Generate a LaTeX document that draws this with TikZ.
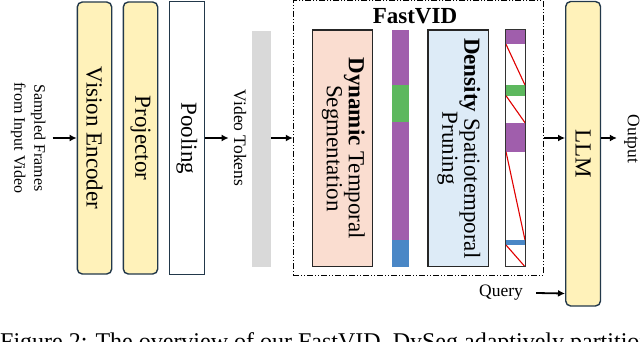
\documentclass[tikz,border=0pt]{standalone}
\usepackage{fontspec}
\setmainfont{Liberation Serif}
\usetikzlibrary{arrows.meta}
\definecolor{ylw}{HTML}{FFF2BA}
\definecolor{navy}{HTML}{22384A}
\definecolor{tokgray}{HTML}{D9D9D9}
\definecolor{peach}{HTML}{FADDD0}
\definecolor{ltblue}{HTML}{DDEBF7}
\definecolor{segpurple}{HTML}{A05EAC}
\definecolor{seggreen}{HTML}{5DB85E}
\definecolor{segblue}{HTML}{4A87C6}
\definecolor{prunered}{HTML}{E00000}
\begin{document}
\begin{tikzpicture}[x=1pt,y=-1pt,
  big/.style={font=\fontsize{23}{22}\selectfont},
  ybox/.style={draw=navy, fill=ylw, line width=1.4pt, rounded corners=5pt, inner sep=0pt, big},
  wbox/.style={draw=navy, fill=white, line width=1.2pt, inner sep=0pt, big},
  mbox/.style={draw=black!85, line width=1.2pt, inner sep=0pt, big},
  small/.style={font=\fontsize{17.5}{20}\selectfont, inner sep=0pt},
  arr/.style={-{Latex[length=7pt,width=7pt]}, line width=1.8pt},
]
\useasboundingbox (0,0) rectangle (640,342);

% input label
\node[font=\fontsize{16}{20}\selectfont, inner sep=0pt] (in) at (28.5,138)
  {\rotatebox{-90}{\begin{tabular}{@{}c@{}}Sampled Frames\\from Input Video\end{tabular}}};

% encoder stack
\node[ybox, minimum width=34.4pt, minimum height=272pt] (venc) at (94.5,138) {\rotatebox{-90}{Vision Encoder}};
\node[ybox, minimum width=34.4pt, minimum height=272pt] (proj) at (140.5,138) {\rotatebox{-90}{Projector}};
\node[wbox, minimum width=35pt, minimum height=273pt] (pool) at (186.8,138.3) {\rotatebox{-90}{Pooling}};

% video tokens
\node[small] (vt) at (240,138) {\rotatebox{-90}{Video Tokens}};
\node[fill=tokgray, minimum width=19pt, minimum height=236pt, inner sep=0pt] (tok) at (261.5,148.7) {};

% FastVID frame
\node[draw, line width=1pt, dash pattern=on 6pt off 2pt on 1pt off 2pt on 1pt off 2pt,
      minimum width=250pt, minimum height=274pt, inner sep=0pt] (frame) at (418.3,138) {};
\node[font=\fontsize{23}{23}\selectfont\bfseries, inner sep=0pt] (fvtitle) at (415,16) {FastVID};

\node[mbox, fill=peach, minimum width=60.4pt, minimum height=236.7pt] (dts) at (342.5,148.35)
  {\rotatebox{-90}{\begin{tabular}{@{}c@{}}\textbf{Dynamic} Temporal\\Segmentation\end{tabular}}};
\node[mbox, fill=ltblue, minimum width=60.3pt, minimum height=236.7pt] (dsp) at (458.15,148.35)
  {\rotatebox{-90}{\begin{tabular}{@{}c@{}}\textbf{Density} Spatiotemporal\\Pruning\end{tabular}}};

% segmented token bar
\node[minimum width=17.8pt, minimum height=236.7pt, inner sep=0pt] (segbar) at (400.4,148.35) {};
\fill[segpurple] (391.5,30) rectangle (409.3,85);
\fill[seggreen] (391.5,85) rectangle (409.3,122.3);
\fill[segpurple] (391.5,122.3) rectangle (409.3,240);
\fill[segblue] (391.5,240) rectangle (409.3,266.7);

% pruned token bar
\node[fill=white, minimum width=19pt, minimum height=236.7pt, inner sep=0pt] (prbar) at (515.5,148.35) {};
\fill[segpurple] (506,30) rectangle (525,44.3);
\fill[seggreen] (506,85) rectangle (525,95.7);
\fill[segpurple] (506,122.7) rectangle (525,151.7);
\fill[segblue] (506,240) rectangle (525,245);
\begin{scope}[draw=prunered, line width=1.1pt]
\draw (506,44.3) -- (525,85);
\draw (506,95.7) -- (525,122.7);
\draw (506,151.7) -- (525,240);
\draw (506,245) -- (525,266.7);
\end{scope}
\draw[black!80, line width=0.9pt] (prbar.north west) rectangle (prbar.south east);

% LLM
\node[ybox, minimum width=34.8pt, minimum height=304.5pt] (llm) at (583.1,153.75) {\rotatebox{-90}{LLM}};
\node[small] (out) at (631.7,139) {\rotatebox{-90}{Output}};
\node[small] (query) at (501,293) {Query};

% connectors
\draw[arr] ([xshift=4pt]in.east) -- (in.east -| venc.west);
\draw[arr] (pool.east |- in.east) -- ([xshift=-5pt]vt.west |- in.east);
\draw[arr] (tok.east |- in.east) -- (frame.west |- in.east);
\draw[arr] (frame.east |- in.east) -- (llm.west |- in.east);
\draw[arr] (llm.east |- in.east) -- ([xshift=-7pt]out.west |- in.east);
\draw[arr] ([xshift=13pt]query.east) -- ([yshift=-0.5pt]query.east -| llm.west);

% clipped caption
\begin{scope}
\clip (0,0) rectangle (640,342);
\node[anchor=base west, inner sep=0pt, font=\fontsize{24}{24}\selectfont] (cap) at (0,349)
  {Figure 2: The overview of our FastVID. DySeg adaptively partitions};
\end{scope}
\end{tikzpicture}
\end{document}
